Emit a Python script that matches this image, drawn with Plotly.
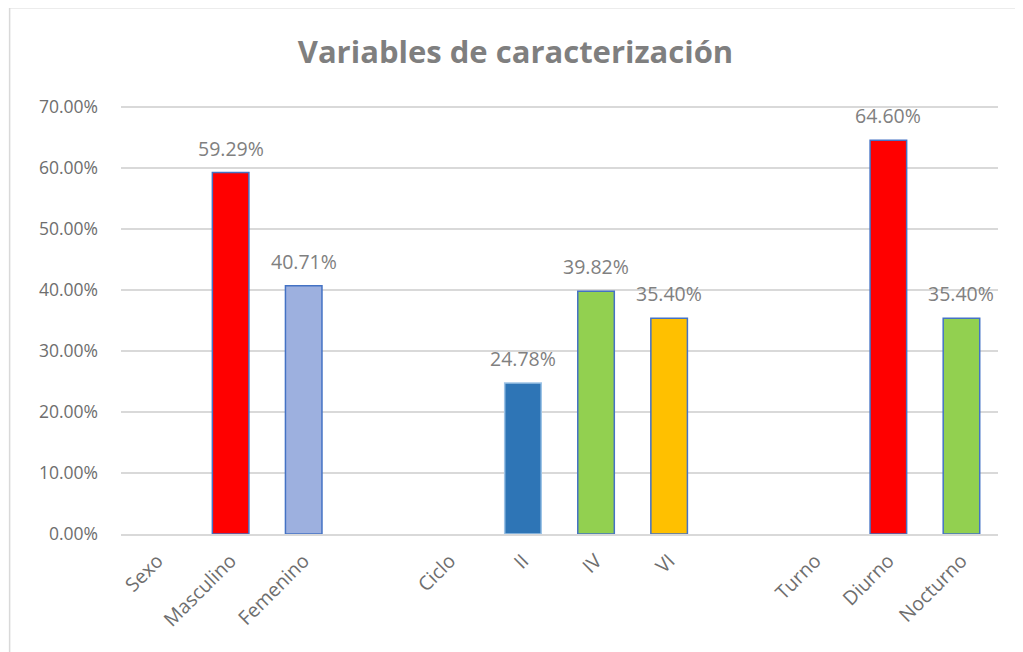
import plotly.graph_objects as go

# Categorías del eje X (las vacías separan los grupos)
categorias = ["Sexo", "Masculino", "Femenino", " ", "Ciclo", "II", "IV", "VI",
              "  ", "Turno", "Diurno", "Nocturno"]
porcentajes = [None, 0.5929, 0.4071, None, None, 0.2478, 0.3982, 0.3540,
               None, None, 0.6460, 0.3540]
colores = ["#FF0000", "#FF0000", "#9DB0DF", "#FFFFFF", "#FFFFFF", "#2E75B6",
           "#92D050", "#FFC000", "#FFFFFF", "#FFFFFF", "#FF0000", "#92D050"]
bordes = ["#4472C4", "#4472C4", "#4472C4", "#4472C4", "#4472C4", "#9DC3E6",
          "#4472C4", "#4472C4", "#4472C4", "#4472C4", "#4472C4", "#4472C4"]
ticks_y = [0, 0.1, 0.2, 0.3, 0.4, 0.5, 0.6, 0.7]

FUENTE = "Open Sans, Noto Sans, sans-serif"

fig = go.Figure(go.Bar(
    x=categorias,
    y=porcentajes,
    width=0.5,
    marker=dict(color=colores, line=dict(color=bordes, width=1.5)),
    cliponaxis=False,
    hoverinfo="x+y",
))

# etiquetas de datos, un poco separadas de la barra como en Excel
for cat, v in zip(categorias, porcentajes):
    if v is None:
        continue
    fig.add_annotation(x=cat, y=v, text=f"{v * 100:.2f}%", showarrow=False,
                       yanchor="bottom", yshift=9,
                       font=dict(size=19.5, color="#808080", family=FUENTE))

# marco del gráfico (el body de la página ya desplaza 8 px)
fig.add_shape(type="rect", xref="paper", yref="paper",
              x0=-0.127, x1=1.04, y0=-0.35, y1=1.2295,
              line=dict(color="#D9D9D9", width=1.5), fillcolor="rgba(0,0,0,0)")

fig.update_layout(
    width=1015, height=644,
    margin=dict(l=113, r=25, t=98, b=118),
    paper_bgcolor="white", plot_bgcolor="white",
    showlegend=False,
    title=dict(text="<b>Variables de caracterización</b>", x=0.5, xanchor="center",
               y=1 - 44 / 644, yanchor="middle",
               font=dict(size=31, color="#7F7F7F", family=FUENTE)),
    bargap=0.5,
)
fig.update_xaxes(
    type="category", tickangle=-45,
    tickfont=dict(size=19.5, color="#6E6E6E", family=FUENTE),
    showline=True, linecolor="#D9D9D9", linewidth=1.5,
    ticks="", showgrid=False, ticklabelstandoff=6,
)
fig.update_yaxes(
    range=[0, 0.702], tickvals=ticks_y, tickformat=".2%",
    tickfont=dict(size=17.5, color="#6E6E6E", family=FUENTE),
    showgrid=True, gridcolor="#D9D9D9", gridwidth=1.5,
    zeroline=False, showline=False, ticks="", ticklabelstandoff=22,
)

fig.write_html("out.html")
